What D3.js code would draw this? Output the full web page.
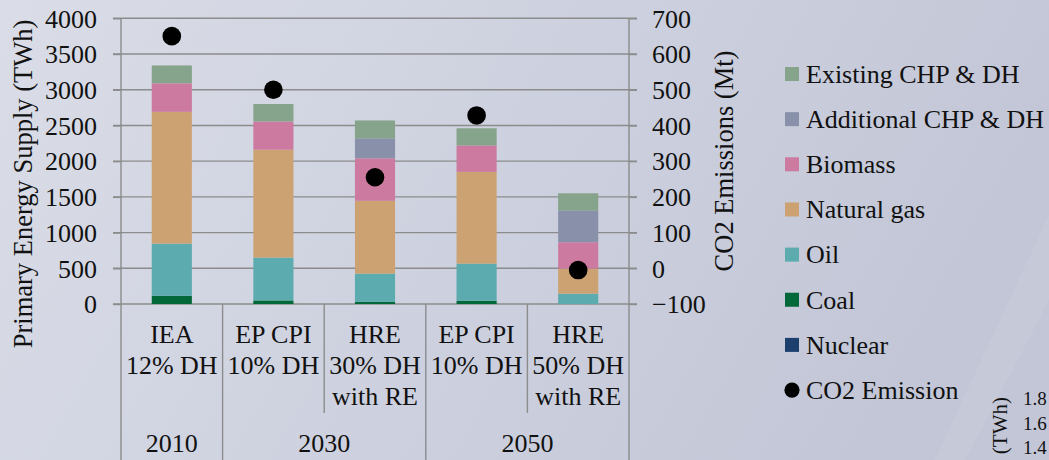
<!DOCTYPE html>
<html>
<head>
<meta charset="utf-8">
<script src="https://cdn.jsdelivr.net/npm/d3@7/dist/d3.min.js"></script>
<style>
  html, body { margin: 0; padding: 0; overflow: hidden; }
  svg { display: block; }
</style>
</head>
<body>
<svg id="chart" width="1049" height="460"></svg>
<script>
// Scenarios (first-level category labels) and their years (second level)
const scenarios = [
  ["IEA", "12% DH"],
  ["EP CPI", "10% DH"],
  ["HRE", "30% DH", "with RE"],
  ["EP CPI", "10% DH"],
  ["HRE", "50% DH", "with RE"]
];
const scenarioIds = ["IEA 2010", "EP CPI 2030", "HRE 2030", "EP CPI 2050", "HRE 2050"];
const years = ["2010", "2030", "2030", "2050", "2050"];

// Primary energy supply by source (TWh)
const nuclear    = [0, 0, 0, 0, 0];
const coal       = [115, 50, 30, 45, 0];
const oil        = [730, 600, 395, 520, 145];
const naturalGas = [1845, 1510, 1020, 1285, 350];
const biomass    = [400, 395, 595, 370, 370];
const additional = [0, 0, 280, 0, 440];
const existing   = [250, 245, 250, 240, 245];

// CO2 emissions (Mt)
const co2 = [650, 500, 255, 428, -5];

// Axis ticks
const leftTicks  = [0, 500, 1000, 1500, 2000, 2500, 3000, 3500, 4000];
const rightTicks = [-100, 0, 100, 200, 300, 400, 500, 600, 700];

const seriesNames = ["Nuclear", "Coal", "Oil", "Natural gas", "Biomass",
                     "Additional CHP & DH", "Existing CHP & DH"];
const seriesValues = [nuclear, coal, oil, naturalGas, biomass, additional, existing];
const seriesColors = ["#1C3F6E", "#02683A", "#5CABAE", "#CCA272", "#CC7A9F",
                      "#8891A9", "#86A38B"];

const FF = '"Liberation Serif"';
const ink = "#111";
const grey = "#8C8C8C";

const svg = d3.select("#chart");
const W = 1049, H = 460;

// helper: serif text element
function label(sel, size) {
  return sel.append("text")
    .attr("font-family", "Liberation Serif").attr("font-size", size)
    .style("font-family", FF).attr("fill", ink);
}

// Background
const defs = svg.append("defs");
const bg = defs.append("linearGradient").attr("id", "bg")
  .attr("x1", "0").attr("y1", "0").attr("x2", "1").attr("y2", "0.25");
bg.append("stop").attr("offset", "0").attr("stop-color", "#DADDE7");
bg.append("stop").attr("offset", "0.55").attr("stop-color", "#CDD1DF");
bg.append("stop").attr("offset", "1").attr("stop-color", "#C2C6D6");
svg.append("rect").attr("width", W).attr("height", H).attr("fill", "url(#bg)");
svg.append("path")
  .attr("d", "M1049,215 L1049,300 L965,460 L935,460 Z")
  .attr("fill", "#ffffff").attr("opacity", 0.07);

// Table of rows for stacking
const rows = scenarioIds.map((id, i) => {
  const r = { id };
  seriesNames.forEach((n, k) => { r[n] = seriesValues[k][i]; });
  return r;
});

const plotTop = 18.3, plotBottom = 304, plotLeft = 121, plotRight = 629;

const x = d3.scaleBand().domain(scenarioIds).range([plotLeft, plotRight])
  .paddingInner(0).paddingOuter(0);
const yL = d3.scaleLinear().domain([0, 4000]).range([plotBottom, plotTop]);
const yR = d3.scaleLinear().domain([-100, 700]).range([plotBottom, plotTop]);

// Gridlines (spanning both tick marks)
svg.append("g").selectAll("line").data(leftTicks).join("line")
  .attr("x1", plotLeft - 8).attr("x2", plotRight + 8)
  .attr("y1", d => yL(d)).attr("y2", d => yL(d))
  .attr("stroke", grey).attr("stroke-width", 1.4);

function styleAxis(g) {
  g.attr("font-family", "Liberation Serif").attr("font-size", 26);
  g.select(".domain").remove();
  g.selectAll("line").attr("stroke", grey).attr("stroke-width", 1.4);
  g.selectAll("text")
    .style("font-family", FF).attr("font-size", 26)
    .attr("fill", ink).attr("dy", "0.34em");
}

// Left axis
svg.append("g").attr("transform", `translate(${plotLeft},0)`)
  .call(d3.axisLeft(yL).tickValues(leftTicks).tickSize(8).tickPadding(16).tickFormat(d3.format("d")))
  .call(styleAxis);

// Right axis
svg.append("g").attr("transform", `translate(${plotRight},0)`)
  .call(d3.axisRight(yR).tickValues(rightTicks).tickSize(8).tickPadding(15).tickFormat(d3.format("d")))
  .call(styleAxis);

// Stacked bars
const stack = d3.stack().keys(seriesNames)(rows);
const barW = x.bandwidth() * 0.395;
svg.append("g").selectAll("g").data(stack).join("g")
  .attr("fill", (d, i) => seriesColors[i])
  .selectAll("rect").data(d => d).join("rect")
  .attr("x", d => x(d.data.id) + (x.bandwidth() - barW) / 2)
  .attr("width", barW)
  .attr("y", d => yL(d[1]))
  .attr("height", d => Math.max(0, yL(d[0]) - yL(d[1])));

// Axis frame lines and category brackets
const frame = svg.append("g").attr("stroke", grey).attr("stroke-width", 1.4);
frame.append("line").attr("x1", plotLeft).attr("x2", plotLeft).attr("y1", plotTop).attr("y2", H);
frame.append("line").attr("x1", plotRight).attr("x2", plotRight).attr("y1", plotTop).attr("y2", H);
// separators between scenarios: full height where the year changes, short otherwise
scenarioIds.slice(1).forEach((id, k) => {
  const i = k + 1;
  const full = years[i] !== years[i - 1];
  frame.append("line")
    .attr("x1", x(id)).attr("x2", x(id))
    .attr("y1", plotBottom).attr("y2", full ? H : 413);
});

// Scenario labels
const labG = svg.append("g");
scenarioIds.forEach((id, i) => {
  const cx = x(id) + x.bandwidth() / 2;
  scenarios[i].forEach((line, j) => {
    label(labG, 26).attr("x", cx).attr("y", 343.3 + j * 30.8)
      .attr("text-anchor", "middle").text(line);
  });
});

// Year labels, centred on each year's group
const yearGroups = d3.groups(scenarioIds.map((id, i) => ({ id, year: years[i] })), d => d.year);
yearGroups.forEach(([yr, items]) => {
  const x0 = x(items[0].id), x1 = x(items[items.length - 1].id) + x.bandwidth();
  label(labG, 26).attr("x", (x0 + x1) / 2).attr("y", 452)
    .attr("text-anchor", "middle").text(yr);
});

// CO2 emission points
svg.append("g").selectAll("circle").data(co2).join("circle")
  .attr("cx", (d, i) => x(scenarioIds[i]) + x.bandwidth() / 2)
  .attr("cy", d => yR(d))
  .attr("r", 9.3).attr("fill", "#000");

// Axis titles
label(svg, 26.5).attr("transform", "translate(23,184) rotate(-90)")
  .attr("text-anchor", "middle").attr("dominant-baseline", "central")
  .text("Primary Energy Supply (TWh)");
label(svg, 26.5).attr("transform", "translate(724,161) rotate(-90)")
  .attr("text-anchor", "middle").attr("dominant-baseline", "central")
  .text("CO2 Emissions (Mt)");

// Legend
const legendOrder = seriesNames.map((n, i) => ({ name: n, color: seriesColors[i] })).reverse();
const lg = svg.append("g");
legendOrder.forEach((d, i) => {
  const cy = 74 + i * 45.15;
  lg.append("rect").attr("x", 785).attr("y", cy - 7).attr("width", 14).attr("height", 14).attr("fill", d.color);
  label(lg, 26).attr("x", 806).attr("y", cy).attr("dy", "0.34em").text(d.name);
});
{
  const cy = 74 + 7 * 45.15;
  lg.append("circle").attr("cx", 792).attr("cy", cy).attr("r", 7.6).attr("fill", "#000");
  label(lg, 26).attr("x", 806).attr("y", cy).attr("dy", "0.34em").text("CO2 Emission");
}

// Edge of the neighbouring panel
const side = svg.append("g");
["1.8", "1.6", "1.4"].forEach((t, i) => {
  label(side, 19).attr("x", 1023).attr("y", 405 + i * 24.5).text(t);
});
label(side, 21).attr("transform", "translate(1007,397) rotate(-90)")
  .attr("text-anchor", "end").text("(TWh)");
</script>
</body>
</html>
